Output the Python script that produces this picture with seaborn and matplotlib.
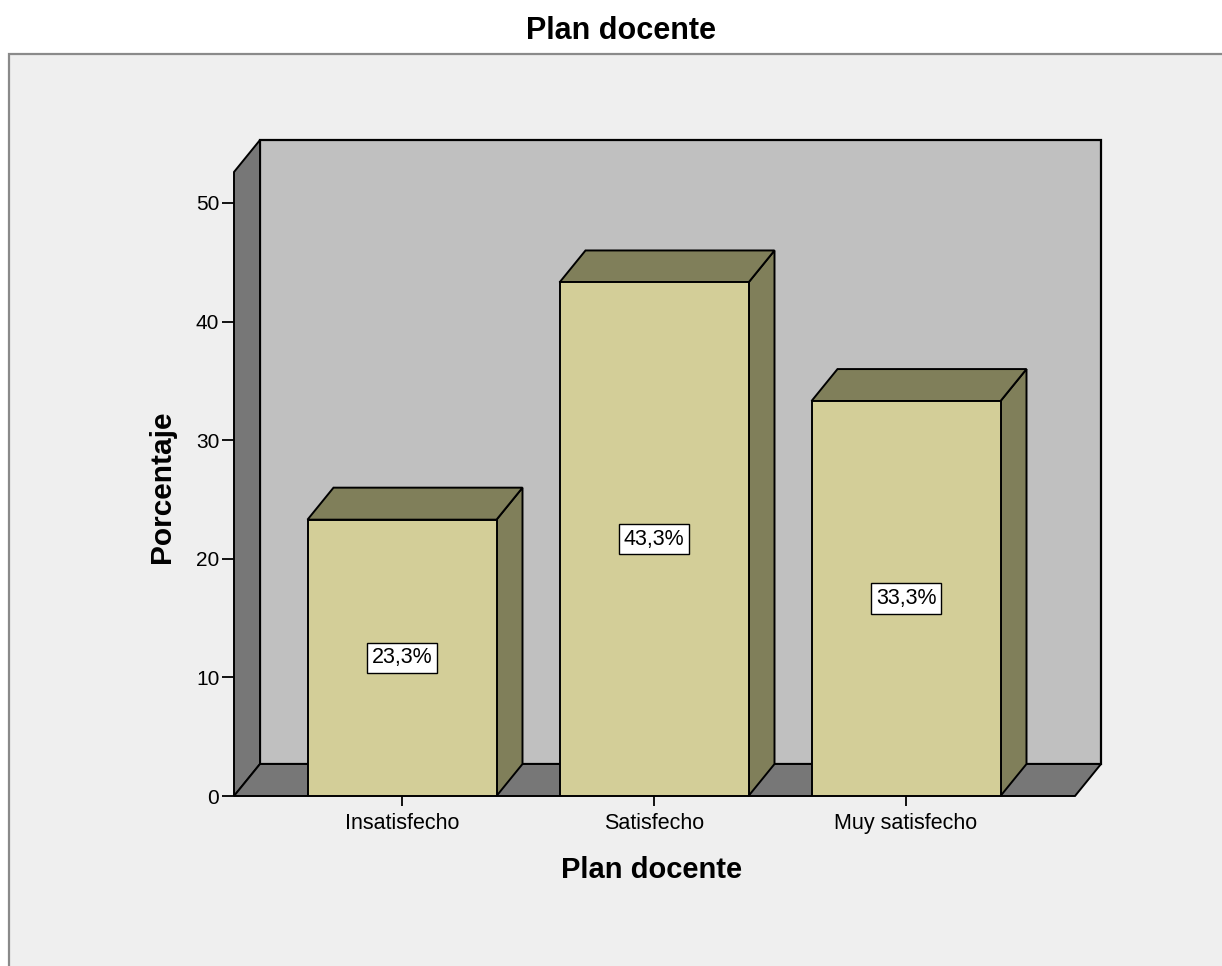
import matplotlib
matplotlib.use("Agg")
import matplotlib.pyplot as plt
from matplotlib.patches import Polygon, Rectangle
import seaborn as sns

# ---- data ----
categories = ["Insatisfecho", "Satisfecho", "Muy satisfecho"]
values = [23.3, 43.3, 33.3]
yticks = [0, 10, 20, 30, 40, 50]
title = "Plan docente"
xlabel = "Plan docente"
ylabel = "Porcentaje"

plt.rcParams["font.family"] = ["Liberation Sans", "DejaVu Sans"]

# ---- styles ----
FRONT = "#D3CE98"
SHADE = "#807F5A"
WALL = "#C0C0C0"
DARK = "#777777"
PANEL = "#EFEFEF"

W, H = 1222, 966
fig = plt.figure(figsize=(W / 100, H / 100), dpi=100)
fig.patch.set_facecolor("white")

# outer panel frame
fig.add_artist(Rectangle((9 / W, -0.1), 1.2, 1 - 54 / H + 0.1, transform=fig.transFigure,
                         facecolor=PANEL, edgecolor="#8a8a8a", linewidth=1.6, zorder=0))

# axes geometry (pixels)
ax_l, ax_r, ax_b, ax_t = 234, 1100, 796, 140
ax = fig.add_axes([ax_l / W, 1 - ax_b / H, (ax_r - ax_l) / W, (ax_b - ax_t) / H])
ax.patch.set_visible(False)

px_per_cat = 252.0
px_per_unit = (796 - 203) / 50.0
xl = (234 - 402) / px_per_cat
xr_front = (1075 - 402) / px_per_cat
dx = 26 / px_per_cat
dy = 32 / px_per_unit
wall_front_top = (796 - 172) / px_per_unit
xlim = (xl, xl + (ax_r - ax_l) / px_per_cat)
ylim = (0, (ax_b - ax_t) / px_per_unit)

bw = 0.75
sns.barplot(x=categories, y=values, color=FRONT, saturation=1, width=bw,
            edgecolor="black", linewidth=1.4, ax=ax, zorder=3)

def poly(pts, fc, z, lw=1.4):
    ax.add_patch(Polygon(pts, closed=True, facecolor=fc, edgecolor="black",
                         linewidth=lw, zorder=z, clip_on=False, joinstyle="miter"))

# back wall, side wall, floor
poly([(xl + dx, dy), (xr_front + dx, dy), (xr_front + dx, wall_front_top + dy),
      (xl + dx, wall_front_top + dy)], WALL, 0.5, lw=1.6)
poly([(xl, 0), (xl + dx, dy), (xl + dx, wall_front_top + dy), (xl, wall_front_top)], DARK, 0.6)
poly([(xl, 0), (xr_front, 0), (xr_front + dx, dy), (xl + dx, dy)], DARK, 0.7)

# bar tops and sides
for i, v in enumerate(values):
    x0, x1 = i - bw / 2, i + bw / 2
    poly([(x1, 0), (x1 + dx, dy), (x1 + dx, v + dy), (x1, v)], SHADE, 2)
    poly([(x0, v), (x1, v), (x1 + dx, v + dy), (x0 + dx, v + dy)], SHADE, 2)
    ax.text(i, v / 2, f"{v:.1f}%".replace(".", ","), ha="center", va="center",
            fontsize=15.5, zorder=5,
            bbox=dict(boxstyle="square,pad=0.22", facecolor="white",
                      edgecolor="black", linewidth=1.0))

ax.set_xlim(*xlim)
ax.set_ylim(*ylim)
ax.set_yticks(yticks)
ax.set_yticklabels([str(t) for t in yticks])
ax.set_xticks(range(len(categories)))
ax.set_xticklabels(categories)
for s in ax.spines.values():
    s.set_visible(False)
ax.tick_params(axis="y", length=8.6, width=1.3, direction="out", pad=2, labelsize=15)
ax.tick_params(axis="x", length=7, width=1.3, direction="out", pad=5, labelsize=15.5)
ax.set_xlabel("")
ax.set_ylabel("")

fig.text(621 / W, 1 - 31 / H, title, ha="center", va="center",
         fontsize=22, fontweight="bold")
fig.text(652 / W, 1 - 870 / H, xlabel, ha="center", va="center",
         fontsize=21, fontweight="bold")
fig.text(162 / W, 1 - 487 / H, ylabel, ha="center", va="center", rotation=90,
         fontsize=21.5, fontweight="bold")

fig.savefig("out.png", dpi=100)
